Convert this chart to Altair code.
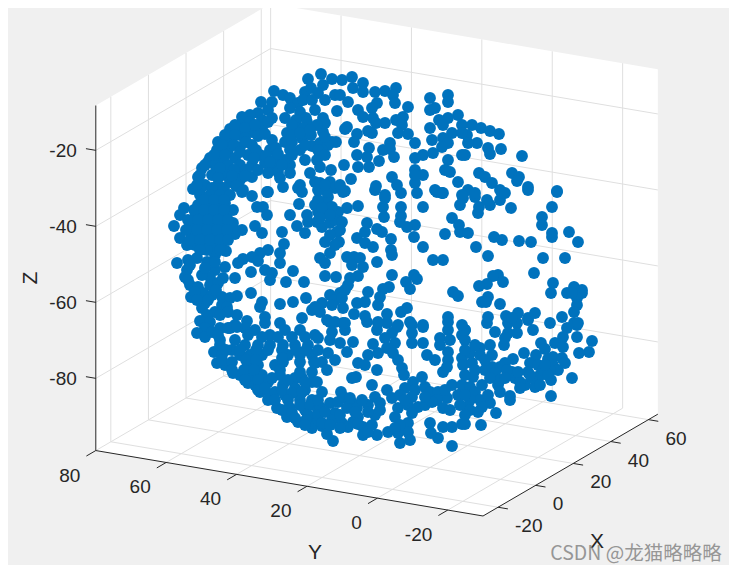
import altair as alt
import numpy as np
import pandas as pd

X_TICKS = [-20, 0, 20, 40, 60]
Y_TICKS = [80, 60, 40, 20, 0, -20]
Z_TICKS = [-20, -40, -60, -80]
X_LIM = (-28, 65)
Y_LIM = (-30, 80)
Z_LIM = (-99, -8.2)

# Marker positions, as seen on screen, by region
upper_left = [(308,79),(305,92),(311,88),(274,91),(261,102),(283,95),(290,98),(272,102),(298,103),(303,100),(290,108),(300,112),(306,118),
(268,110),(258,113),(250,115),(242,117),(230,129),(240,125),(250,122),(262,120),(272,118),(285,118),(296,120),(307,122),(298,128),(287,133),
(262,128),(218,142),(217,150),(228,140),(240,135),(252,132),(272,140),(285,142),(292,142),(302,138),(311,135),(312,146),(300,150),
(228,150),(240,147),(252,145),(210,158),(222,160),(235,158),(248,155),(260,155),(270,150),(208,162),(202,168),(198,177),(193,189),
(215,165),(228,165),(240,165),(252,165),(265,163),(275,160),(212,175),(225,175),(238,175),(205,185),(218,185),(230,182),(240,180),(200,190),
(272,168),(278,172),(290,165),(310,173),(305,160),(315,182),(300,185),(298,188),(283,187),(267,192),(243,190),(252,177),(290,173),(285,160),(268,173),
(235,125),(245,128),(255,125),(268,122),(292,125),(304,128),(225,135),(235,135),(245,138),(258,136),(265,134),(292,135),(300,133),(222,145),(234,145),(246,142),(256,150),(276,148),(290,150),(305,145),
(214,155),(225,155),(240,152),(254,158),(266,156),(278,154),(292,155),(205,165),(220,168),(234,170),(246,170),(258,170),(270,162),(282,165),(200,175),(218,178),(232,176),(245,176),(280,178),(197,185),(212,188),(224,188),(236,186)]
left_mid = [(200,195),(210,195),(220,195),(230,195),(198,205),(208,205),(218,205),(196,215),(206,215),(216,215),(226,215),(192,225),(202,225),(212,225),(222,225),
(192,235),(202,235),(212,235),(222,235),(195,245),(205,245),(215,245),(222,243),
(184,208),(180,215),(174,226),(180,238),(187,245),(233,210),(225,203),(242,192),(252,196),(268,192),(257,207),(263,207),(267,215),(290,215),(299,204),(302,192),
(307,215),(308,222),(297,226),(305,233),(282,232),(255,226),(262,233),(233,223),(242,230),(235,234),(233,228),(284,244),(280,253),(268,250),(260,253),(252,257),(258,261),
(243,259),(238,263),(280,263),(226,251),(177,263),(225,267),(251,272),(265,270),(272,273),(270,280),(293,271),(286,282),(304,282),(235,278),(223,278),
(188,260),(197,258),(207,262),(187,270),(185,277),(215,270),(210,277),(202,275),(190,285),(198,287),(210,285),(191,297),(203,293),(212,295),(222,297),(237,296),(230,298),
(251,293),(202,308),(205,303),(222,305),(227,307),(262,302),(280,304),(293,302),(306,298),(260,307),(265,317),(215,312),(207,315),(200,321),(210,322),(228,312),(235,325),
(247,321),(280,323),(302,318),(312,310),(265,323),(237,315),(215,255),(207,250),(215,262),
(204,200),(214,200),(224,200),(194,210),(204,210),(214,210),(224,210),(188,220),(198,220),(208,220),(218,220),(228,220),(186,230),(197,230),(207,230),(217,230),(227,230),(190,240),(200,240),(210,240),(220,240),(228,240),(200,250),(220,250),
(190,265),(205,268),(188,280),(218,283),(195,292),(216,290),(197,300),(208,300),(220,315),(205,328),(220,328),(230,328),(245,328)]
lower_left = [(197,333),(205,337),(214,352),(217,363),(233,373),(248,383),(260,392),(268,400),(277,408),(287,417),(298,422),(312,428),(235,340),(212,332),(228,328),(237,327),
(248,335),(255,330),(220,345),(232,350),(245,345),(258,345),(270,345),(283,345),(295,345),(308,345),(222,355),(250,355),(262,355),(288,355),(300,355),(312,355),
(225,365),(248,365),(258,365),(283,362),(240,375),(252,375),(262,375),(280,375),(295,378),(255,385),(268,382),(283,385),(295,388),(270,395),(285,395),(300,400),
(302,378),(312,382),(312,400),(313,423),(290,408),(305,410),(220,340),(270,335),(285,330),(300,330),(315,335),(240,355),(275,365),(275,392),(305,390),
(218,335),(262,337),(278,337),(292,337),(305,337),(318,338),(226,350),(240,350),(256,350),(268,350),(282,350),(296,350),(306,350),(318,350),(222,360),(232,362),(246,360),(256,360),(282,358),(300,362),(314,362),
(232,370),(244,370),(254,370),(280,370),(300,372),(312,372),(245,380),(258,380),(272,378),(288,380),(305,382),(258,390),(265,388),(282,390),(292,393),(302,392),(275,400),(288,400),(300,405),(310,405),(282,410),(292,413),(308,415),(318,410),(295,418),(306,420),(318,420),(305,425),(322,426)]
lower_mid = [(353,342),(373,344),(377,370),(356,377),(352,378),(372,385),(322,392),(341,392),(333,441),(327,434),(452,446),(438,438),(431,433),(430,423),(443,427),(452,427),(462,424),
(330,322),(343,323),(345,330),(332,332),(330,340),(340,343),(347,352),(328,353),(335,360),(322,362),(315,363),(327,370),(358,363),(365,365),(368,355),(317,382),
(367,322),(378,323),(377,330),(387,323),(397,327),(412,325),(423,327),(448,330),(412,333),(392,333),(385,338),(395,343),(412,343),(423,343),(440,338),(450,340),(440,345),(448,352),
(427,355),(435,360),(448,360),(443,372),(447,367),(462,335),(465,330),(462,358),(463,365),(387,348),(378,353),(398,360),(393,353),(402,368),(404,375),(448,322),
(422,377),(413,382),(405,388),(415,390),(425,387),(430,392),(438,392),(452,385),(462,385),(447,398),(437,400),(458,395),(387,390),(392,398),(375,397),(380,403),(368,405),(375,415),
(398,408),(408,405),(418,407),(425,405),(443,408),(450,410),(432,402),(395,417),(412,413),(408,423),(408,432),(400,443),(410,440),(398,433),(388,432),
(345,398),(352,403),(330,403),(320,407),(335,413),(347,408),(357,408),(318,415),(358,417),(322,423),(332,420),(353,422),(363,427),(363,435),(377,435),(368,432),(342,423),(348,427),(340,415),(325,412),
(318,400),(338,402),(350,398),(362,400),(355,412),(368,412),(330,425),(340,428),(358,424),(372,425),(400,395),(412,397),(425,397),(445,390),(405,400),(380,410),(400,425),(395,428)]
lower_right = [(487,323),(508,323),(517,323),(528,320),(550,323),(533,330),(495,332),(508,333),(517,333),(504,345),(505,338),(577,325),(567,328),(577,337),(563,337),(555,343),(563,347),(592,341),(589,352),(579,353),
(541,343),(545,349),(524,353),(536,355),(530,363),(538,365),(548,359),(553,357),(562,358),(565,363),(553,365),(558,370),(550,370),(572,378),(551,380),(551,396),(540,375),(535,387),(525,385),(515,378),(512,372),(513,359),
(505,363),(500,367),(507,370),(498,385),(500,392),(510,400),(510,396),(490,403),(496,413),(481,425),(465,424),(480,348),(490,345),(470,353),(480,355),(492,355),(472,363),(485,370),(492,367),(473,377),(482,385),(470,387),(475,392),(480,400),(470,400),(482,407),(467,407),(495,373),(532,378),(520,382),(465,340),(465,330),(500,380),(543,370),
(475,345),(465,350),(485,360),(475,370),(465,375),(465,395),(490,378),(488,395),(470,410),(478,412),(460,405),(465,415),(505,378),(518,372),(528,372),(540,385),(548,375),(545,365),(530,375),(520,388)]
mid_centre = [(358,206),(347,208),(338,212),(343,192),(325,203),(328,197),(318,200),(332,207),(318,212),(325,213),(317,222),(322,227),(330,223),(335,220),(342,222),(337,232),(325,242),(339,242),(330,253),(320,258),(325,263),(325,276),(336,277),
(367,223),(365,232),(357,238),(365,243),(373,247),(377,229),(382,232),(391,239),(391,250),(392,255),(377,262),(347,257),(354,257),(352,265),(360,258),(363,267),(358,276),(350,278),(348,285),(345,290),(392,275),(414,275),(417,279),(406,282),(410,289),
(389,287),(383,289),(368,292),(380,297),(378,305),(365,302),(357,303),(354,314),(365,316),(387,314),(401,312),(407,308),(448,317),(453,292),(458,296),(433,260),(443,260),(423,247),(414,237),(415,225),(407,227),(400,222),(401,216),(401,207),(383,207),(384,217),(385,198),(401,193),(417,193),(423,207),(437,192),(442,193),(452,218),(459,225),(460,232),(445,234),(460,205),(463,198),(375,190),
(330,295),(340,293),(335,300),(342,298),(322,303),(332,305),(343,308),(320,312),(315,307),(327,320),(335,322),(345,323),(378,322),(398,325),(410,322),(423,325),(462,325),
(315,205),(322,208),(330,215),(320,218),(340,230),(330,235),(335,245)]
mid_right = [(528,190),(557,192),(552,207),(542,217),(542,225),(552,233),(552,237),(569,232),(578,242),(565,258),(543,258),(534,273),(553,283),(551,293),(531,242),(519,241),(502,240),(494,237),(476,247),(488,256),(468,233),(511,208),(500,200),(502,193),(490,205),(478,213),(479,207),(487,200),(475,197),
(498,275),(493,276),(503,282),(487,284),(479,286),(488,297),(482,302),(486,302),(500,304),(488,317),(506,316),(518,313),(512,318),(528,318),(535,313),(562,317),(567,293),(574,287),(582,290),(582,293),(577,298),(577,305),(574,312),(574,323),(578,323),(572,293)]
upper_right = [(472,125),(481,128),(490,131),(499,134),(477,143),(467,135),(468,143),(488,148),(490,154),(501,149),(522,156),(465,155),(479,173),(485,177),(492,183),(512,173),(519,177),(517,181),(528,187),(557,191),(468,190),(500,190),(505,193),(475,193)]
upper_centre = [(321,74),(332,79),(342,80),(352,77),(363,83),(353,88),(363,92),(375,92),(385,91),(396,88),(393,95),(395,103),(323,85),(318,93),(325,100),(335,95),(340,95),(348,102),(337,111),(358,110),(377,103),(372,108),(363,117),(373,118),(385,123),(376,123),(408,107),(430,98),(448,95),(448,102),(430,110),(435,108),(403,117),(396,120),(402,125),(398,133),(408,134),(415,143),
(458,115),(448,118),(439,120),(430,128),(432,140),(443,125),(452,133),(443,138),(462,125),(462,133),(448,143),(442,147),(433,153),(423,155),(415,158),(415,170),(423,175),(415,183),(415,175),(462,155),(448,160),(445,170),(450,172),(458,182),(435,190),(443,193),(462,195),
(347,127),(345,129),(357,134),(354,142),(368,131),(372,133),(336,142),(332,142),(323,118),(323,132),(320,143),(328,145),(320,155),(322,150),(317,160),(320,167),(331,170),(344,165),(358,167),(369,167),(357,155),(369,148),(367,157),(379,161),(383,150),(390,143),(390,149),(394,157),(351,179),(376,186),(392,177),(397,185),(330,182),(320,183),(335,188),(345,191),(327,192),(385,195),(325,123),
(312,100),(315,110),(317,125),(310,130),(325,137),(318,150),(325,155),(318,190),(325,185),(340,185)]

PTS = upper_left + left_mid + lower_left + lower_mid + lower_right + mid_centre + mid_right + upper_right + upper_centre
points = pd.DataFrame(PTS, columns=["sx", "sy"])


def project(X, Y, Z):
    """Fixed MATLAB-style view: data coordinates to screen position."""
    sx = 483 + (X - X_LIM[0]) * 1.88 - (Y - Y_LIM[0]) * 3.52
    sy = 516 - (X - X_LIM[0]) * 1.095 - (Y - Y_LIM[0]) * 0.595 - (Z - Z_LIM[0]) * 3.8
    return sx, sy


def seg(a, b):
    x, y = project(*a)
    x2, y2 = project(*b)
    return {"x": x, "y": y, "x2": x2, "y2": y2}


Xa, Xb = X_LIM
Ya, Yb = Y_LIM
Za, Zb = Z_LIM

grid = []
for t in X_TICKS:
    grid.append(seg((t, Ya, Za), (t, Yb, Za)))
    grid.append(seg((t, Yb, Za), (t, Yb, Zb)))
for t in Y_TICKS:
    grid.append(seg((Xa, t, Za), (Xb, t, Za)))
    grid.append(seg((Xb, t, Za), (Xb, t, Zb)))
for t in Z_TICKS:
    grid.append(seg((Xa, Yb, t), (Xb, Yb, t)))
    grid.append(seg((Xb, Yb, t), (Xb, Ya, t)))
grid = pd.DataFrame(grid)

axes = [seg((Xa, Yb, Za), (Xa, Yb, Zb)), seg((Xa, Yb, Za), (Xa, Ya, Za)), seg((Xa, Ya, Za), (Xb, Ya, Za))]
for t in Z_TICKS:
    axes.append(seg((Xa, Yb, t), (Xa, Yb + 2.8, t)))
for t in Y_TICKS:
    axes.append(seg((Xa, t, Za), (Xa - 5, t, Za)))
for t in X_TICKS:
    axes.append(seg((t, Ya, Za), (t, Ya - 2.8, Za)))
axes = pd.DataFrame(axes)

# White back of the box: top and bottom outline against screen x
cx, top_y = zip(*[project(Xa, Yb, Zb), project(Xb, Yb, Zb), project(Xb, Ya, Zb)])
bx, bot_y = zip(*[project(Xa, Yb, Za), project(Xa, Ya, Za), project(Xb, Ya, Za)])
xs = sorted(set(cx) | set(bx))
box = pd.DataFrame({"x": xs, "y": np.interp(xs, cx, top_y), "y2": np.interp(xs, bx, bot_y)})

z_labels, y_labels, x_labels = [], [], []
for t in Z_TICKS:
    sx, sy = project(Xa, Yb, t)
    z_labels.append({"x": sx - 19, "y": sy + 0.5, "t": str(t)})
for t in Y_TICKS:
    sx, sy = project(Xa, t, Za)
    y_labels.append({"x": sx - 15.5, "y": sy + 25, "t": str(t)})
for t in X_TICKS:
    sx, sy = project(t, Ya, Za)
    x_labels.append({"x": sx + 17, "y": sy + 19, "t": str(t)})

xs_ = alt.Scale(domain=[8, 729], range=[0, 721], nice=False, zero=False)
ys_ = alt.Scale(domain=[8, 565], range=[0, 557], nice=False, zero=False)
X = alt.X("x:Q", scale=xs_, axis=None)
Y = alt.Y("y:Q", scale=ys_, axis=None)
FONT = "Liberation Sans"
INK = "#262626"

white = alt.Chart(box).mark_area(color="white", opacity=1).encode(x=X, y=Y, y2="y2:Q")
grid_l = alt.Chart(grid).mark_rule(color="#dfdfdf", strokeWidth=1).encode(x=X, y=Y, x2="x2:Q", y2="y2:Q")
axes_l = alt.Chart(axes).mark_rule(color=INK, strokeWidth=1).encode(x=X, y=Y, x2="x2:Q", y2="y2:Q")
pts = alt.Chart(points).mark_circle(color="#0072BD", opacity=1, size=140).encode(
    x=alt.X("sx:Q", scale=xs_, axis=None), y=alt.Y("sy:Q", scale=ys_, axis=None))
tick_z = alt.Chart(pd.DataFrame(z_labels)).mark_text(font=FONT, fontSize=19, color=INK, align="right").encode(x=X, y=Y, text="t:N")
tick_y = alt.Chart(pd.DataFrame(y_labels)).mark_text(font=FONT, fontSize=19, color=INK, align="right").encode(x=X, y=Y, text="t:N")
tick_x = alt.Chart(pd.DataFrame(x_labels)).mark_text(font=FONT, fontSize=19, color=INK, align="left").encode(x=X, y=Y, text="t:N")
titles = pd.DataFrame([{"x": 315, "y": 553, "t": "Y"}, {"x": 597, "y": 542, "t": "X"}])
title_l = alt.Chart(titles).mark_text(font=FONT, fontSize=21, color=INK).encode(x=X, y=Y, text="t:N")
ztitle = alt.Chart(pd.DataFrame([{"x": 31, "y": 278, "t": "Z"}])).mark_text(font=FONT, fontSize=21, color=INK, angle=270).encode(x=X, y=Y, text="t:N")
wm = alt.Chart(pd.DataFrame([{"x": 636, "y": 554, "t": "CSDN @龙猫略略略"}])).mark_text(
    font="Noto Sans CJK SC", fontSize=19.5, color="#808080", opacity=0.8).encode(x=X, y=Y, text="t:N")

chart = alt.layer(white, grid_l, axes_l, pts, tick_z, tick_y, tick_x, title_l, ztitle, wm).properties(
    width=721, height=557, background="#f0f0f0", padding=0,
    autosize=alt.AutoSizeParams(type="none")
).configure_view(stroke=None)

chart.save("out.html", embed_options={"renderer": "svg", "actions": False})
